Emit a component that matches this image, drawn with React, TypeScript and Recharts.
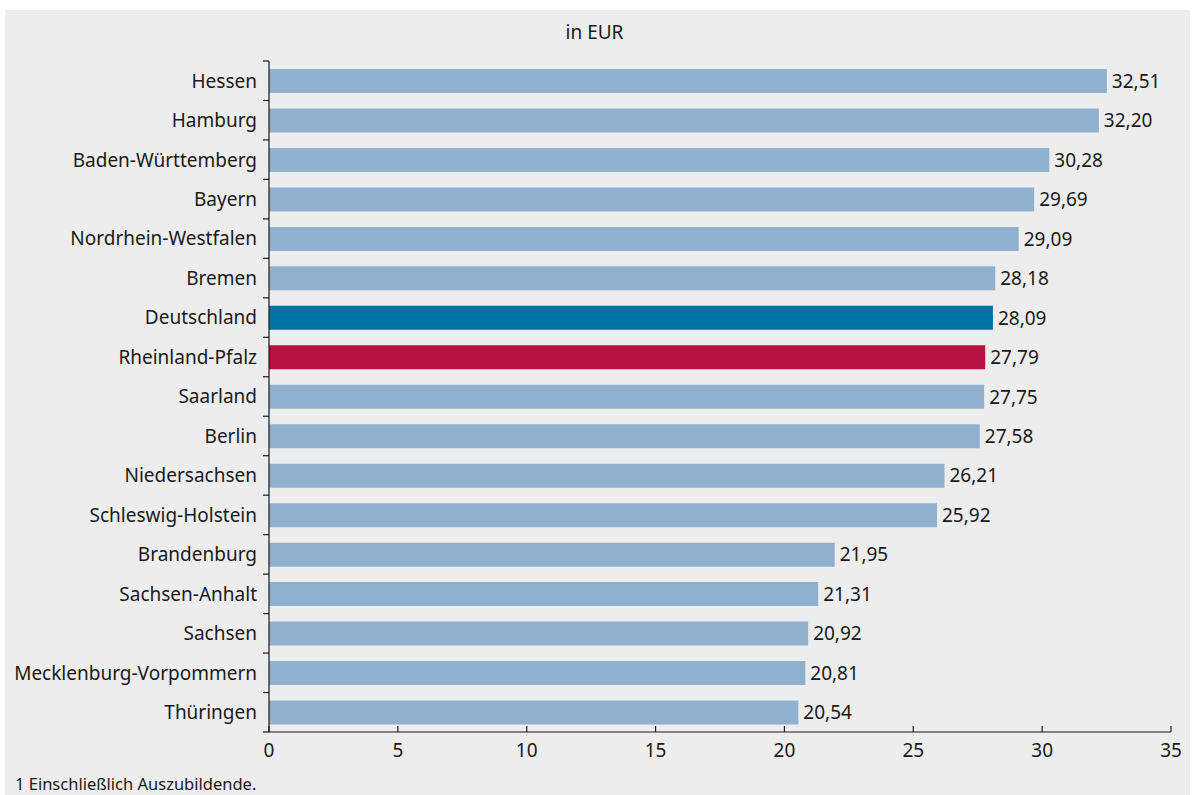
import { Bar, BarChart, Cell, LabelList, XAxis, YAxis } from "recharts"

const laender = [
  "Hessen",
  "Hamburg",
  "Baden-Württemberg",
  "Bayern",
  "Nordrhein-Westfalen",
  "Bremen",
  "Deutschland",
  "Rheinland-Pfalz",
  "Saarland",
  "Berlin",
  "Niedersachsen",
  "Schleswig-Holstein",
  "Brandenburg",
  "Sachsen-Anhalt",
  "Sachsen",
  "Mecklenburg-Vorpommern",
  "Thüringen",
]

const verdienst = [
  32.51, 32.2, 30.28, 29.69, 29.09, 28.18, 28.09, 27.79, 27.75, 27.58, 26.21,
  25.92, 21.95, 21.31, 20.92, 20.81, 20.54,
]

const xTicks = [0, 5, 10, 15, 20, 25, 30, 35]

// chart geometry
const W = 1185
const H = 785
const TOP = 51
const YAXIS_W = 264
const XAXIS_H = 30
const BOTTOM = 33
const HALF_BAND = (H - TOP - BOTTOM - XAXIS_H) / laender.length / 2

const textColor = "#1a1a1a"
const font = "'Noto Sans', 'Open Sans', sans-serif"
const fs = 19

function barColor(name: string) {
  if (name === "Deutschland") return "#0072a3"
  if (name === "Rheinland-Pfalz") return "#b5123f"
  return "#8fb1cf"
}

const fmt = (v: any) => Number(v).toFixed(2).replace(".", ",")

function YTick(props: any) {
  const { x, y, payload, index } = props
  const ax = x + 12
  return (
    <g>
      <line x1={ax - 6} x2={ax} y1={y - HALF_BAND} y2={y - HALF_BAND} stroke={textColor} strokeWidth={1.2} />
      {index === laender.length - 1 && (
        <line x1={ax - 6} x2={ax} y1={y + HALF_BAND} y2={y + HALF_BAND} stroke={textColor} strokeWidth={1.2} />
      )}
      <text x={x} y={y} dy="0.36em" textAnchor="end" fontSize={fs} fill={textColor} fontFamily={font}>
        {payload.value}
      </text>
    </g>
  )
}

function XTick(props: any) {
  const { x, y, payload } = props
  return (
    <g>
      <line x1={x} x2={x} y1={y - 6} y2={y - 12} stroke={textColor} strokeWidth={1.2} />
      <text x={x} y={y + 19} textAnchor="middle" fontSize={fs} fill={textColor} fontFamily={font}>
        {payload.value}
      </text>
    </g>
  )
}

export default function App() {
  const data = laender.map((name, i) => ({ name, wert: verdienst[i] }))

  return (
    <div
      style={{
        position: "absolute",
        left: 5,
        top: 10,
        width: W,
        height: H,
        background: "#ecedec",
        fontFamily: font,
        color: textColor,
      }}
    >
      <div style={{ position: "absolute", top: 9, left: 0, width: W - 6, textAlign: "center", fontSize: fs }}>
        in EUR
      </div>
      <BarChart
        width={W}
        height={H}
        data={data}
        layout="vertical"
        margin={{ top: TOP, right: 19, left: 0, bottom: BOTTOM }}
      >
        <XAxis
          type="number"
          domain={[0, 35]}
          ticks={xTicks}
          height={XAXIS_H}
          tickSize={0}
          tickMargin={6}
          tickLine={false}
          axisLine={{ stroke: textColor, strokeWidth: 1.2 }}
          tick={<XTick />}
          interval={0}
        />
        <YAxis
          type="category"
          dataKey="name"
          width={YAXIS_W}
          tickSize={0}
          tickMargin={12}
          tickLine={false}
          axisLine={{ stroke: textColor, strokeWidth: 1.2 }}
          tick={<YTick />}
          interval={0}
        />
        <Bar dataKey="wert" barSize={24} isAnimationActive={false}>
          {data.map((d) => (
            <Cell key={d.name} fill={barColor(d.name)} />
          ))}
          <LabelList
            dataKey="wert"
            position="right"
            offset={5}
            formatter={fmt}
            style={{ fontSize: fs, fill: textColor, fontFamily: font }}
          />
        </Bar>
      </BarChart>
      <div style={{ position: "absolute", left: 10, top: 762, fontSize: 16.5 }}>
        1 Einschließlich Auszubildende.
      </div>
    </div>
  )
}
